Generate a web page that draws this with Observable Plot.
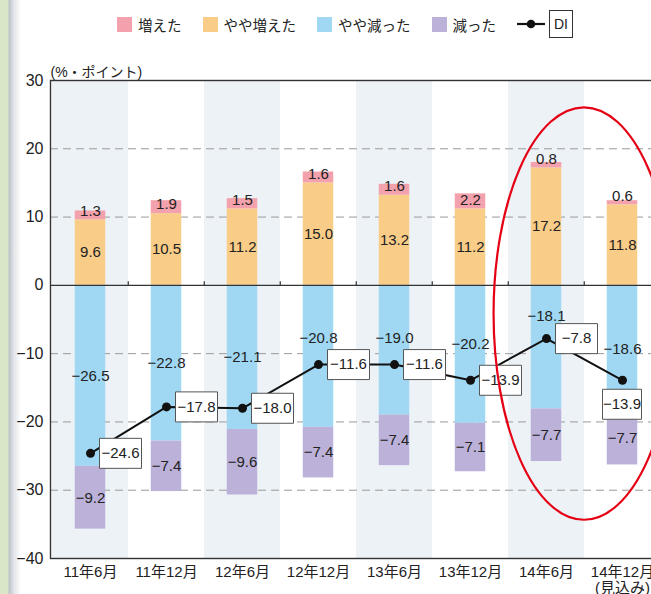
<!DOCTYPE html>
<html lang="ja">
<head>
<meta charset="utf-8">
<script src="https://cdn.jsdelivr.net/npm/d3@7"></script>
<script src="https://cdn.jsdelivr.net/npm/@observablehq/plot@0.6"></script>
<style>
  body { margin: 0; background: #fff; }
  #page {
    position: relative; width: 651px; height: 594px; overflow: hidden; background: #fff;
    font-family: "Liberation Sans", "Noto Sans CJK JP", sans-serif; color: #222;
  }
  #strip {
    position: absolute; left: 0; top: 0; width: 22px; height: 594px;
    background: linear-gradient(to right, #d9e7c6 0, #d9e7c6 8px, #bcc0c8 9px, #e3e5e9 14px, #ffffff 21px);
  }
  #legend {
    position: absolute; left: 117px; top: 10px; height: 28px;
    display: flex; align-items: center; font-size: 14.5px; white-space: nowrap;
  }
  .item { display: flex; align-items: center; margin-right: 21px; }
  .sw { width: 15px; height: 15px; margin-right: 6px; }
  .di-sym { display: flex; align-items: center; }
  .di-box {
    margin-left: 4px; border: 1px solid #333; height: 26px; line-height: 26px;
    padding: 0 4px; font-size: 14px; font-family: "Liberation Sans", sans-serif;
  }
  #chart { position: absolute; left: 0; top: 48px; }
</style>
</head>
<body>
<div id="page">
  <div id="strip"></div>
  <div id="legend"></div>
  <div id="chart"></div>
</div>
<script>
// Survey periods (the last one is a forecast)
const periods = ["11年6月", "11年12月", "12年6月", "12年12月", "13年6月", "13年12月", "14年6月", "14年12月"];
const forecastPeriod = "14年12月";
const forecastNote = "(見込み)";

// Shares of respondents by answer (%), negative for the "decreased" side
const increased         = [1.3, 1.9, 1.5, 1.6, 1.6, 2.2, 0.8, 0.6];
const slightlyIncreased = [9.6, 10.5, 11.2, 15.0, 13.2, 11.2, 17.2, 11.8];
const slightlyDecreased = [-26.5, -22.8, -21.1, -20.8, -19.0, -20.2, -18.1, -18.6];
const decreased         = [-9.2, -7.4, -9.6, -7.4, -7.4, -7.1, -7.7, -7.7];

// Diffusion index (% points)
const di = [-24.6, -17.8, -18.0, -11.6, -11.6, -13.9, -7.8, -13.9];

// Legend order and colours
const seriesNames  = ["増えた", "やや増えた", "やや減った", "減った"];
const seriesColors = ["#f3a1ac", "#f9cc88", "#a0d8f4", "#bcb2d9"];
const diName = "DI";
const yTicks = [-40, -30, -20, -10, 0, 10, 20, 30];
const yUnit = "(%・ポイント)";

// Label placement tweaks (in % points) so that the "やや減った" labels clear the DI line
const slightlyDecreasedLabelLift = [0, 0, 0, 2.6, 1.8, 1.5, 4.5, 0];
// DI labels drawn below their point instead of to the right
const diLabelsBelow = new Set(["14年12月"]);
// Highlighted range
const highlight = {from: "14年6月", to: "14年12月", top: 26, bottom: -34.4};

// ---- legend ----
const legend = document.getElementById("legend");
seriesNames.forEach((name, i) => {
  const item = document.createElement("div");
  item.className = "item";
  item.innerHTML = `<span class="sw" style="background:${seriesColors[i]}"></span><span>${name}</span>`;
  legend.appendChild(item);
});
const diItem = document.createElement("div");
diItem.className = "di-sym";
diItem.innerHTML = `<svg width="28" height="12"><line x1="0" y1="6" x2="28" y2="6" stroke="#111" stroke-width="2.2"/><circle cx="14" cy="6" r="4.3" fill="#111"/></svg><span class="di-box">${diName}</span>`;
legend.appendChild(diItem);

// ---- tidy rows for stacking (stack order: inner segment first) ----
const stackOrder = [
  ["やや増えた", slightlyIncreased],
  ["増えた", increased],
  ["やや減った", slightlyDecreased],
  ["減った", decreased]
];
const rows = [];
periods.forEach((p, i) => {
  for (const [series, values] of stackOrder) rows.push({period: p, series, value: values[i], index: i});
});
const diRows = periods.map((p, i) => ({period: p, di: di[i]}));

const fmt = d3.format(".1f");

// ---- layout ----
const width = 664, height = 546;
const marginLeft = 50, marginRight = 2, marginTop = 32, marginBottom = 36;
const bandwidth = (width - marginLeft - marginRight) / periods.length;
const barWidth = 31;
const inset = (bandwidth - barWidth) / 2;

// small custom symbols
const tickUp = {draw(c) { c.moveTo(0, 0); c.lineTo(0, -4); }};
const boxRight = {draw(c) { c.rect(9, -15, 42, 30); }};
const boxBelow = {draw(c) { c.rect(-20, 9, 39, 30); }};

const plot = Plot.plot({
  width, height, marginLeft, marginRight, marginTop, marginBottom,
  style: "font-family: 'Liberation Sans', 'Noto Sans CJK JP', sans-serif; font-size: 15px; color: #222; background: transparent; max-width: none; overflow: visible;",
  x: {domain: periods, padding: 0, axis: null},
  y: {domain: [-40, 30], axis: null},
  color: {domain: seriesNames, range: seriesColors},
  marks: [
    // alternate column shading
    Plot.barY(periods.filter((d, i) => i % 2 === 0), {x: d => d, y1: -40, y2: 30, fill: "#edf2f7"}),
    // dashed grid
    Plot.ruleY(yTicks.filter(t => t !== 0 && t !== -40 && t !== 30), {stroke: "#9a9a9a", strokeDasharray: "8,5", strokeWidth: 1}),
    // stacked bars
    Plot.barY(rows, Plot.stackY({x: "period", y: "value", fill: "series", insetLeft: inset, insetRight: inset})),
    // zero line with small ticks at the column boundaries
    Plot.ruleY([0], {stroke: "#333", strokeWidth: 1.4}),
    Plot.dot(periods.slice(1), {x: d => d, y: 0, dx: -bandwidth / 2, symbol: tickUp, stroke: "#333", strokeWidth: 1.2}),
    Plot.frame({stroke: "#333", strokeWidth: 1.4}),
    // segment labels: "やや増えた" and "減った" centred in their segment
    Plot.text(rows, Plot.stackY({
      x: "period", y: "value",
      text: d => (d.series === "やや増えた" || d.series === "減った") ? fmt(d.value) : "",
      fontSize: 15, fill: "#222"
    })),
    // "増えた" labels sit just above the orange segment
    Plot.text(rows, Plot.stackY1({
      x: "period", y: "value",
      text: d => d.series === "増えた" ? fmt(d.value) : "",
      dy: -9, fontSize: 15, fill: "#222"
    })),
    // "やや減った" labels
    Plot.text(rows.filter(d => d.series === "やや減った"), {
      x: "period", y: d => d.value / 2 + slightlyDecreasedLabelLift[d.index],
      text: d => fmt(d.value), fontSize: 15, fill: "#222"
    }),
    // DI line
    Plot.line(diRows, {x: "period", y: "di", stroke: "#111", strokeWidth: 2}),
    Plot.dot(diRows, {x: "period", y: "di", r: 4.5, fill: "#111"}),
    Plot.dot(diRows.filter(d => !diLabelsBelow.has(d.period)), {x: "period", y: "di", symbol: boxRight, fill: "white", stroke: "#555", strokeWidth: 1}),
    Plot.dot(diRows.filter(d => diLabelsBelow.has(d.period)), {x: "period", y: "di", symbol: boxBelow, fill: "white", stroke: "#555", strokeWidth: 1}),
    Plot.text(diRows.filter(d => !diLabelsBelow.has(d.period)), {x: "period", y: "di", text: d => fmt(d.di), dx: 30, fontSize: 15, fill: "#222"}),
    Plot.text(diRows.filter(d => diLabelsBelow.has(d.period)), {x: "period", y: "di", text: d => fmt(d.di), dx: -0.5, dy: 24, fontSize: 15, fill: "#222"}),
    // axes
    Plot.axisY({ticks: yTicks, tickSize: 0, tickPadding: 7, fontSize: 16, label: null}),
    Plot.axisX({tickSize: 0, tickPadding: 7, fontSize: 15, lineHeight: 1.08, label: null,
      tickFormat: d => d === forecastPeriod ? d + "\n" + forecastNote : d}),
    Plot.text([yUnit], {frameAnchor: "top-left", text: d => d, dy: -13, textAnchor: "start", fontSize: 14, fill: "#222"})
  ]
});

document.getElementById("chart").appendChild(plot);

// red ellipse around the latest two periods
const xs = plot.scale("x"), ys = plot.scale("y");
const cx = (xs.apply(highlight.from) + xs.apply(highlight.to)) / 2 + xs.bandwidth / 2;
const yTop = ys.apply(highlight.top), yBot = ys.apply(highlight.bottom);
const ell = document.createElementNS("http://www.w3.org/2000/svg", "ellipse");
ell.setAttribute("cx", cx);
ell.setAttribute("cy", (yTop + yBot) / 2);
ell.setAttribute("rx", xs.bandwidth * 1.19);
ell.setAttribute("ry", (yBot - yTop) / 2);
ell.setAttribute("fill", "none");
ell.setAttribute("stroke", "#e50014");
ell.setAttribute("stroke-width", 2.2);
plot.appendChild(ell);
</script>
</body>
</html>
